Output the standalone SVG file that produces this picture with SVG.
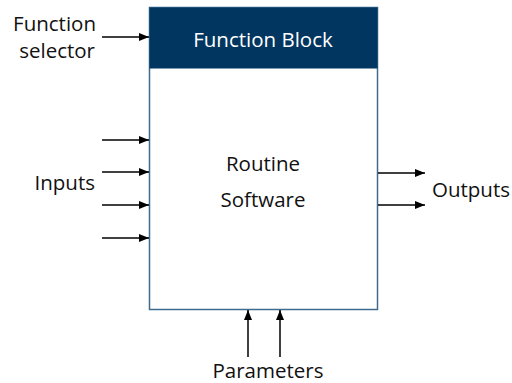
<svg xmlns="http://www.w3.org/2000/svg" width="512" height="383" viewBox="0 0 512 383">
<style>
text{font-family:"Open Sans","Noto Sans","Liberation Sans",sans-serif;font-size:20.5px;fill:#111}
.w{fill:#fff}
.c{stroke:#000;stroke-width:1.5;fill:none}
</style>
<defs>
<marker id="a" viewBox="0 0 10 10" refX="10" refY="5" markerWidth="10" markerHeight="10" markerUnits="userSpaceOnUse" orient="auto">
<path d="M0,1 L10,5 L0,9 Z" fill="#000"/>
</marker>
</defs>
<rect width="512" height="383" fill="#fff"/>
<g id="block">
<rect x="149.5" y="7.5" width="228" height="302" fill="#fff" stroke="#3f6b8e" stroke-width="1.5"/>
<rect x="149.5" y="7.5" width="228" height="61" fill="#003660"/>
<text class="w" x="263" y="47" text-anchor="middle">Function Block</text>
<text x="263" y="171" text-anchor="middle">Routine</text>
<text x="263" y="207" text-anchor="middle">Software</text>
</g>
<g id="labels">
<text x="96" y="31" text-anchor="end">Function</text>
<text x="95" y="57.5" text-anchor="end">selector</text>
<text x="95" y="190" text-anchor="end">Inputs</text>
<text x="432" y="197">Outputs</text>
<text x="268" y="378" text-anchor="middle">Parameters</text>
</g>
<g id="connectors">
<line class="c" x1="102" y1="37" x2="149" y2="37" marker-end="url(#a)"/>
<line class="c" x1="102" y1="140" x2="149" y2="140" marker-end="url(#a)"/>
<line class="c" x1="102" y1="172" x2="149" y2="172" marker-end="url(#a)"/>
<line class="c" x1="102" y1="205" x2="149" y2="205" marker-end="url(#a)"/>
<line class="c" x1="102" y1="238" x2="149" y2="238" marker-end="url(#a)"/>
<line class="c" x1="378" y1="173" x2="425" y2="173" marker-end="url(#a)"/>
<line class="c" x1="378" y1="205" x2="425" y2="205" marker-end="url(#a)"/>
<line class="c" x1="248" y1="357" x2="248" y2="310" marker-end="url(#a)"/>
<line class="c" x1="280" y1="357" x2="280" y2="310" marker-end="url(#a)"/>
</g>
</svg>
